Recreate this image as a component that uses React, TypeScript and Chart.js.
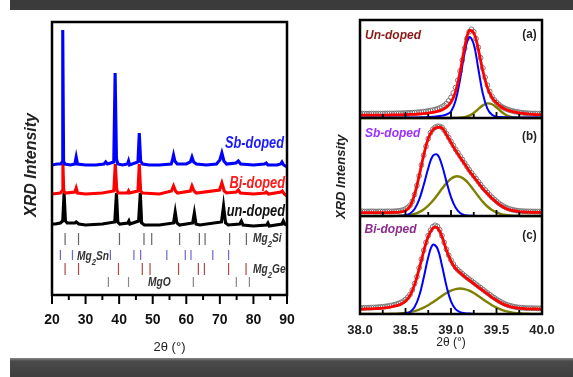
import { useEffect, useRef } from 'react';
import { Chart, registerables } from 'chart.js';

Chart.register(...registerables);

const NARROW = "'Liberation Sans Narrow', 'Arial Narrow', 'Liberation Sans', Arial, sans-serif";
const SANS = "'Liberation Sans', Arial, sans-serif";

// ---------------- Left panel: full XRD patterns ----------------
const leftTickValues = [20, 30, 40, 50, 60, 70, 80, 90];
const leftTickLabels = ['20', '30', '40', '50', '60', '70', '80', '90'];
const leftMinorTicks = [25, 35, 45, 55, 65, 75, 85];

const sbX = [20, 21.5, 22.6, 23.0, 23.2, 23.45, 23.8, 25.5, 26.8, 27.2, 27.6, 30, 33, 35.5, 36, 36.5, 38.4, 38.8, 39.2, 39.6, 41, 42.5, 42.8, 43.1, 45.6, 46.0, 46.4, 47, 49, 52, 55.5, 55.8, 56.2, 56.6, 57.3, 60, 61.2, 61.7, 62.2, 63, 66, 69, 70.0, 70.6, 71.2, 72, 74.8, 75.5, 76.2, 80, 83.3, 83.8, 84.3, 87, 88.1, 88.5, 89, 90];
const sbY = [130, 131, 131, 133, 265, 134, 131, 130, 131, 138, 131, 130, 130, 131, 133, 131, 133, 222, 136, 131, 130, 131, 134, 130, 133, 162, 134, 131, 130, 130, 131, 134, 140, 134, 131, 131, 133, 138, 133, 131, 130, 131, 135, 142, 134, 131, 132, 134, 131, 130, 131, 132, 130, 130, 131, 133, 130, 128];

const biX = [20, 22.5, 23.0, 23.25, 23.5, 24, 26.8, 27.2, 27.6, 30, 35, 38.4, 38.85, 39.3, 39.7, 42.5, 42.8, 43.1, 45.6, 46.0, 46.4, 47, 52, 55.6, 56.2, 56.8, 57.4, 61.2, 61.7, 62.3, 63, 69.9, 70.6, 71.3, 72, 74.9, 75.5, 76.1, 80, 83.4, 83.8, 84.5, 88.2, 88.6, 89.2, 90];
const biY = [101, 102, 104, 131, 104, 102, 103, 107, 102, 101, 102, 104, 131, 105, 102, 102, 104, 102, 104, 131, 104, 102, 101, 104, 109, 104, 102, 104, 109, 104, 102, 105, 112, 104, 102, 103, 105, 102, 101, 102, 103, 101, 103, 104, 101, 99];

const unX = [20, 21, 22.5, 23.2, 23.6, 24.0, 24.5, 26.8, 27.2, 28, 30, 35, 38.7, 39.2, 39.6, 40.2, 42.6, 42.9, 43.2, 45.8, 46.3, 46.7, 47.5, 52, 56.2, 56.7, 57.2, 58, 61.9, 62.4, 62.9, 64, 70.5, 71.1, 71.7, 72.5, 75.9, 76.4, 76.9, 80, 83.9, 84.3, 84.7, 88.5, 88.9, 89.3, 90];
const unY = [71, 71, 72, 74, 102, 74, 72, 72, 73, 71, 70, 71, 73, 102, 73, 71, 72, 74, 71, 74, 102, 72, 70, 70, 72, 83, 72, 70, 72, 82, 71, 70, 73, 89, 72, 70, 71, 74, 70, 69, 70, 72, 69, 71, 74, 71, 70];

// reference reflection positions (2θ)
const mg2SiPos = [23.9, 27.9, 40.1, 47.4, 49.7, 58.0, 63.9, 65.6, 72.9, 77.9];
const mg2SnPos = [22.5, 26.1, 37.4, 44.4, 46.4, 54.2, 59.7, 61.4, 67.9, 72.6];
const mg2GePos = [23.9, 27.9, 39.8, 46.9, 49.2, 57.7, 63.6, 65.4, 72.6, 77.8];
const mgOPos = [36.8, 42.8, 62.1, 74.9, 78.8];

// ---------------- Right panel: (a)(b)(c) peak fits near 39° ----------------
const rightTickValues = [38, 38.5, 39, 39.5, 40];
const rightTickLabels = ['38.0', '38.5', '39.0', '39.5', '40.0'];
const rightMajorInner = [38.5, 39, 39.5];
const rightMinorInner = [38.25, 38.75, 39.25, 39.75];

const fitX = [38, 38.05, 38.1, 38.15, 38.2, 38.25, 38.3, 38.35, 38.4, 38.45, 38.5, 38.55, 38.6, 38.65, 38.7, 38.75, 38.8, 38.85, 38.9, 38.95, 39, 39.05, 39.1, 39.15, 39.2, 39.25, 39.3, 39.35, 39.4, 39.45, 39.5, 39.55, 39.6, 39.65, 39.7, 39.75, 39.8, 39.85, 39.9, 39.95, 40];

const fitRedA = [0.03, 0.03, 0.03, 0.03, 0.03, 0.03, 0.03, 0.031, 0.031, 0.032,
  0.034, 0.036, 0.038, 0.041, 0.045, 0.05, 0.057, 0.067, 0.082, 0.11,
  0.16, 0.27, 0.47, 0.72, 0.89, 0.87, 0.7, 0.48, 0.31, 0.21,
  0.155, 0.115, 0.09, 0.072, 0.06, 0.052, 0.046, 0.042, 0.038, 0.035,
  0.033];
const fitBlueA = [0.004, 0.004, 0.004, 0.004, 0.004, 0.004, 0.004, 0.004, 0.004, 0.004,
  0.004, 0.004, 0.004, 0.006, 0.008, 0.01, 0.013, 0.017, 0.024, 0.036,
  0.065, 0.175, 0.395, 0.665, 0.825, 0.752, 0.503, 0.247, 0.095, 0.032,
  0.014, 0.009, 0.007, 0.006, 0.005, 0.005, 0.005, 0.005, 0.005, 0.005,
  0.005];
const fitOliveA = [0, 0, 0, 0, 0, 0, 0, 0, 0, 0,
  0, 0, 0, 0, 0, 0, 0, 0, 0, 0,
  0, 0.001, 0.003, 0.009, 0.024, 0.052, 0.091, 0.129, 0.149, 0.14,
  0.107, 0.067, 0.034, 0.014, 0.005, 0.002, 0, 0, 0, 0,
  0];

const fitRedB = [0.035, 0.035, 0.035, 0.035, 0.035, 0.035, 0.035, 0.036, 0.037, 0.042,
  0.055, 0.1, 0.22, 0.41, 0.62, 0.79, 0.88, 0.905, 0.9, 0.83,
  0.75, 0.67, 0.6, 0.53, 0.46, 0.4, 0.34, 0.28, 0.23, 0.18,
  0.14, 0.105, 0.08, 0.062, 0.052, 0.045, 0.041, 0.039, 0.037, 0.036,
  0.035];
const fitBlueB = [0, 0, 0, 0, 0, 0, 0, 0, 0, 0.002,
  0.007, 0.025, 0.071, 0.167, 0.316, 0.488, 0.613, 0.626, 0.52, 0.351,
  0.193, 0.086, 0.031, 0.009, 0.003, 0.001, 0, 0, 0, 0,
  0, 0, 0, 0, 0, 0, 0, 0, 0, 0,
  0];
const fitOliveB = [0, 0, 0, 0, 0, 0, 0, 0, 0.001, 0.003,
  0.006, 0.012, 0.022, 0.04, 0.067, 0.105, 0.155, 0.214, 0.277, 0.335,
  0.38, 0.403, 0.4, 0.372, 0.324, 0.264, 0.202, 0.144, 0.097, 0.061,
  0.036, 0.02, 0.01, 0.005, 0.002, 0.001, 0, 0, 0, 0,
  0];

const fitRedC = [0.05, 0.051, 0.052, 0.054, 0.056, 0.06, 0.066, 0.074, 0.085, 0.1,
  0.13, 0.19, 0.3, 0.46, 0.64, 0.79, 0.875, 0.88, 0.79, 0.65,
  0.54, 0.465, 0.42, 0.38, 0.345, 0.31, 0.275, 0.24, 0.205, 0.17,
  0.14, 0.112, 0.09, 0.076, 0.066, 0.06, 0.056, 0.053, 0.052, 0.051,
  0.05];
const fitBlueC = [0, 0, 0, 0, 0, 0, 0, 0, 0, 0.001,
  0.005, 0.021, 0.071, 0.183, 0.369, 0.578, 0.706, 0.671, 0.498, 0.287,
  0.129, 0.05, 0.02, 0.008, 0.004, 0.002, 0, 0, 0, 0,
  0, 0, 0, 0, 0, 0, 0, 0, 0, 0,
  0];
const fitOliveC = [0, 0, 0, 0, 0, 0.001, 0.001, 0.002, 0.004, 0.007,
  0.011, 0.019, 0.03, 0.045, 0.065, 0.09, 0.119, 0.151, 0.184, 0.214,
  0.238, 0.254, 0.26, 0.254, 0.238, 0.214, 0.184, 0.151, 0.119, 0.09,
  0.065, 0.045, 0.03, 0.019, 0.011, 0.007, 0.004, 0.002, 0.001, 0,
  0];

const obsX = [38, 38.025, 38.05, 38.075, 38.1, 38.125, 38.15, 38.175, 38.2, 38.225,
  38.25, 38.275, 38.3, 38.325, 38.35, 38.375, 38.4, 38.425, 38.45, 38.475,
  38.5, 38.525, 38.55, 38.575, 38.6, 38.625, 38.65, 38.675, 38.7, 38.725,
  38.75, 38.775, 38.8, 38.825, 38.85, 38.875, 38.9, 38.925, 38.95, 38.975,
  39, 39.025, 39.05, 39.075, 39.1, 39.125, 39.15, 39.175, 39.2, 39.225,
  39.25, 39.275, 39.3, 39.325, 39.35, 39.375, 39.4, 39.425, 39.45, 39.475,
  39.5, 39.525, 39.55, 39.575, 39.6, 39.625, 39.65, 39.675, 39.7, 39.725,
  39.75, 39.775, 39.8, 39.825, 39.85, 39.875, 39.9, 39.925, 39.95, 39.975,
  40];
const obsA = [0.045, 0.046, 0.045, 0.044, 0.045, 0.046, 0.045, 0.045, 0.046, 0.045,
  0.046, 0.046, 0.047, 0.046, 0.047, 0.047, 0.048, 0.048, 0.049, 0.05,
  0.051, 0.052, 0.053, 0.054, 0.056, 0.058, 0.06, 0.062, 0.065, 0.068,
  0.071, 0.075, 0.08, 0.086, 0.093, 0.102, 0.113, 0.128, 0.148, 0.175,
  0.21, 0.255, 0.31, 0.385, 0.48, 0.59, 0.71, 0.81, 0.88, 0.905,
  0.88, 0.81, 0.72, 0.615, 0.51, 0.415, 0.335, 0.27, 0.222, 0.185,
  0.16, 0.138, 0.12, 0.106, 0.095, 0.086, 0.078, 0.072, 0.066, 0.062,
  0.058, 0.055, 0.052, 0.05, 0.048, 0.047, 0.046, 0.046, 0.045, 0.045,
  0.045];
const obsB = [0.047, 0.048, 0.046, 0.047, 0.047, 0.048, 0.047, 0.046, 0.047, 0.047,
  0.047, 0.047, 0.048, 0.047, 0.047, 0.048, 0.05, 0.052, 0.056, 0.062,
  0.072, 0.088, 0.11, 0.15, 0.22, 0.31, 0.41, 0.52, 0.62, 0.71,
  0.79, 0.85, 0.885, 0.905, 0.915, 0.915, 0.905, 0.875, 0.84, 0.8,
  0.76, 0.72, 0.68, 0.645, 0.61, 0.575, 0.54, 0.505, 0.47, 0.44,
  0.41, 0.38, 0.35, 0.32, 0.29, 0.265, 0.24, 0.215, 0.19, 0.17,
  0.15, 0.13, 0.115, 0.1, 0.088, 0.078, 0.07, 0.064, 0.059, 0.055,
  0.052, 0.05, 0.049, 0.048, 0.047, 0.047, 0.046, 0.046, 0.046, 0.046,
  0.046];
const obsC = [0.062, 0.063, 0.063, 0.064, 0.065, 0.066, 0.067, 0.068, 0.07, 0.072,
  0.074, 0.077, 0.08, 0.084, 0.088, 0.094, 0.1, 0.108, 0.118, 0.13,
  0.148, 0.17, 0.2, 0.245, 0.31, 0.38, 0.47, 0.56, 0.65, 0.73,
  0.8, 0.855, 0.89, 0.905, 0.895, 0.86, 0.8, 0.73, 0.66, 0.6,
  0.55, 0.51, 0.475, 0.45, 0.43, 0.41, 0.39, 0.372, 0.355, 0.338,
  0.32, 0.303, 0.285, 0.268, 0.25, 0.232, 0.215, 0.198, 0.18, 0.165,
  0.15, 0.135, 0.122, 0.11, 0.1, 0.091, 0.084, 0.078, 0.073, 0.069,
  0.066, 0.064, 0.062, 0.061, 0.06, 0.06, 0.059, 0.059, 0.058, 0.058,
  0.058];

// ---------------- helpers ----------------
const pts = (xs: number[], ys: number[], off = 0) => xs.map((x, i) => ({ x, y: ys[i] + off }));
const markers = (pos: number[], lo: number, hi: number) =>
  pos.flatMap((p) => [{ x: p, y: lo }, { x: p, y: hi }, { x: p, y: null as any }]);

function drawText(ctx: any, s: string, x: number, y: number, font: string, color: string, align = 'left', sx = 1) {
  ctx.save();
  ctx.translate(x, y);
  ctx.scale(sx, 1);
  ctx.font = font;
  ctx.fillStyle = color;
  ctx.textAlign = align;
  ctx.textBaseline = 'alphabetic';
  ctx.fillText(s, 0, 0);
  ctx.restore();
}

function drawFormula(ctx: any, parts: [string, boolean][], x: number, y: number, size: number, color: string, sx: number) {
  ctx.save();
  ctx.translate(x, y);
  ctx.scale(sx, 1);
  ctx.fillStyle = color;
  ctx.textAlign = 'left';
  ctx.textBaseline = 'alphabetic';
  let cx = 0;
  for (const [t, sub] of parts) {
    ctx.font = `italic bold ${sub ? Math.round(size * 0.72) : size}px ${SANS}`;
    ctx.fillText(t, cx, sub ? size * 0.45 : 0);
    cx += ctx.measureText(t).width;
  }
  ctx.restore();
}

function vTitle(ctx: any, s: string, cx: number, cy: number, font: string) {
  ctx.save();
  ctx.translate(cx, cy);
  ctx.rotate(-Math.PI / 2);
  ctx.font = font;
  ctx.fillStyle = '#222';
  ctx.textAlign = 'center';
  ctx.textBaseline = 'middle';
  ctx.fillText(s, 0, 0);
  ctx.restore();
}

function seg(ctx: any, x1: number, y1: number, x2: number, y2: number) {
  ctx.beginPath();
  ctx.moveTo(x1, y1);
  ctx.lineTo(x2, y2);
  ctx.stroke();
}

const leftDecor = {
  id: 'leftDecor',
  afterDraw(chart: any) {
    const { ctx, chartArea: a } = chart;
    const x = chart.scales.x;
    ctx.save();
    ctx.strokeStyle = '#000';
    ctx.lineWidth = 2.5;
    ctx.strokeRect(a.left, a.top, a.right - a.left, a.bottom - a.top);
    ctx.lineWidth = 2;
    leftTickValues.forEach((v) => { const px = x.getPixelForValue(v); seg(ctx, px, a.bottom, px, a.bottom + 9); });
    leftMinorTicks.forEach((v) => { const px = x.getPixelForValue(v); seg(ctx, px, a.bottom, px, a.bottom + 5); });
    ctx.restore();

    const lf = `italic bold 16px ${SANS}`;
    drawText(ctx, 'Sb-doped', 284, 148, lf, '#1a1aff', 'right', 0.8);
    drawText(ctx, 'Bi-doped', 285, 188, lf, '#ff1a1a', 'right', 0.8);
    drawText(ctx, 'un-doped', 285, 216, lf, '#111', 'right', 0.8);

    drawFormula(ctx, [['Mg', false], ['2', true], ['Si', false]], 253, 241.5, 12, '#333', 0.85);
    drawFormula(ctx, [['Mg', false], ['2', true], ['Sn', false]], 77, 259.5, 12, '#333', 0.85);
    drawFormula(ctx, [['Mg', false], ['2', true], ['Ge', false]], 253, 273, 12, '#333', 0.85);
    drawFormula(ctx, [['MgO', false]], 148, 286, 12, '#333', 0.85);

    vTitle(ctx, 'XRD Intensity', 32, 165, `italic bold 16px ${SANS}`);
  },
};

const rightDecor = {
  id: 'rightDecor',
  afterDraw(chart: any) {
    const { ctx, chartArea: a } = chart;
    const x = chart.scales.x;
    const y = chart.scales.y;
    ctx.save();
    ctx.strokeStyle = '#000';
    ctx.lineWidth = 2.5;
    ctx.strokeRect(a.left, a.top, a.right - a.left, a.bottom - a.top);
    [1, 2].forEach((v) => { const py = y.getPixelForValue(v); seg(ctx, a.left, py, a.right, py); });
    ctx.lineWidth = 1.8;
    [0, 1, 2].forEach((b) => {
      const py = y.getPixelForValue(b);
      rightMajorInner.forEach((t) => { const px = x.getPixelForValue(t); seg(ctx, px, py, px, py - 6); });
      rightMinorInner.forEach((t) => { const px = x.getPixelForValue(t); seg(ctx, px, py, px, py - 4); });
    });
    ctx.restore();

    const pf = `italic bold 12px ${SANS}`;
    drawText(ctx, 'Un-doped', 365, 38.5, pf, '#8b1a1a');
    drawText(ctx, 'Sb-doped', 365, 137, pf, '#9b30ff');
    drawText(ctx, 'Bi-doped', 364.5, 232.5, pf, '#8e2c8e');
    const lf = `bold 13px ${SANS}`;
    drawText(ctx, '(a)', 529.5, 37.5, lf, '#222', 'center', 0.9);
    drawText(ctx, '(b)', 529.5, 139.5, lf, '#222', 'center', 0.9);
    drawText(ctx, '(c)', 529.5, 238.5, lf, '#222', 'center', 0.9);

    vTitle(ctx, 'XRD Intensity', 341.7, 176.7, `italic bold 13px ${SANS}`);
  },
};

export default function App() {
  const leftRef = useRef<HTMLCanvasElement>(null);
  const rightRef = useRef<HTMLCanvasElement>(null);

  useEffect(() => {
    const lineDs = (label: string, data: any, color: string, width: number, order: number) => ({
      label, data, borderColor: color, backgroundColor: color, borderWidth: width,
      showLine: true, pointRadius: 0, tension: 0, order, spanGaps: false,
    });

    const left = new Chart(leftRef.current as HTMLCanvasElement, {
      type: 'scatter',
      data: {
        datasets: [
          lineDs('Sb-doped', pts(sbX, sbY), '#0000ff', 3.1, 0),
          lineDs('Bi-doped', pts(biX, biY), '#ff0000', 3.1, 1),
          lineDs('un-doped', pts(unX, unY), '#000000', 3.1, 2),
          lineDs('Mg2Si', markers(mg2SiPos, 50, 62), '#666666', 1.2, 3),
          lineDs('Mg2Sn', markers(mg2SnPos, 35, 45), '#6a6ad0', 1.2, 3),
          lineDs('Mg2Ge', markers(mg2GePos, 20, 32), '#b04848', 1.2, 3),
          lineDs('MgO', markers(mgOPos, 8, 18), '#888888', 1.2, 3),
        ] as any,
      },
      options: {
        responsive: false,
        animation: false,
        events: [],
        layout: { padding: { left: 52, right: 286, top: 22, bottom: 21.5 } },
        plugins: { legend: { display: false }, tooltip: { enabled: false } },
        scales: {
          x: {
            type: 'linear', min: 20, max: 90,
            afterBuildTicks: (s: any) => { s.ticks = leftTickValues.map((v) => ({ value: v })); },
            afterFit: (s: any) => { s.height = 60.5; },
            ticks: {
              callback: (_v: any, i: number) => leftTickLabels[i],
              font: { family: NARROW, size: 14, weight: 'bold', lineHeight: 1 },
              color: '#111', padding: 18, maxRotation: 0, autoSkip: false,
            },
            grid: { display: false, drawTicks: false },
            border: { display: false },
            title: {
              display: true, text: '2θ (°)', color: '#222',
              font: { family: NARROW, size: 13, lineHeight: 1 },
              padding: { top: 13.5, bottom: 2 },
            },
          },
          y: { type: 'linear', min: 0, max: 273, display: false },
        },
      } as any,
      plugins: [leftDecor],
    });

    const panels = [
      { off: 2, red: fitRedA, blue: fitBlueA, olive: fitOliveA, obs: obsA },
      { off: 1, red: fitRedB, blue: fitBlueB, olive: fitOliveB, obs: obsB },
      { off: 0, red: fitRedC, blue: fitBlueC, olive: fitOliveC, obs: obsC },
    ];
    const rightSets: any[] = [];
    panels.forEach((p) => {
      rightSets.push({ ...lineDs('fit', pts(fitX, p.red, p.off), '#ff0000', 2.8, 0), tension: 0.4 });
      rightSets.push({ ...lineDs('peak 1', pts(fitX, p.blue, p.off), '#0000ff', 2, 1), tension: 0.4 });
      rightSets.push({ ...lineDs('peak 2', pts(fitX, p.olive, p.off), '#808000', 2.4, 2), tension: 0.4 });
      rightSets.push({
        label: 'observed', data: pts(obsX, p.obs, p.off), showLine: false, order: 3,
        pointRadius: 2.4, pointBorderWidth: 0.9, pointBorderColor: '#6e6e6e',
        pointBackgroundColor: 'rgba(255,255,255,0)',
      });
    });

    const right = new Chart(rightRef.current as HTMLCanvasElement, {
      type: 'scatter',
      data: { datasets: rightSets },
      options: {
        responsive: false,
        animation: false,
        events: [],
        layout: { padding: { left: 360, right: 31, top: 20, bottom: 26.5 } },
        plugins: { legend: { display: false }, tooltip: { enabled: false } },
        scales: {
          x: {
            type: 'linear', min: 38, max: 40,
            afterBuildTicks: (s: any) => { s.ticks = rightTickValues.map((v) => ({ value: v })); },
            afterFit: (s: any) => { s.height = 36.5; },
            ticks: {
              callback: (_v: any, i: number) => rightTickLabels[i],
              font: { family: NARROW, size: 13, weight: 'bold', lineHeight: 1 },
              color: '#222', padding: 9.5, maxRotation: 0, autoSkip: false,
            },
            grid: { display: false, drawTicks: false },
            border: { display: false },
            title: {
              display: true, text: '2θ (°)', color: '#222',
              font: { family: NARROW, size: 12, lineHeight: 1 },
              padding: { top: 0, bottom: 2 },
            },
          },
          y: { type: 'linear', min: 0, max: 3, display: false },
        },
      } as any,
      plugins: [rightDecor],
    });

    return () => { left.destroy(); right.destroy(); };
  }, []);

  const abs = { position: 'absolute' as const, left: 0, top: 0 };
  return (
    <div style={{ ...abs, width: 573, height: 377, background: '#fff', overflow: 'hidden' }}>
      <div style={{ position: 'absolute', left: 10, top: 0, width: 563, height: 10, background: '#3b3b3b' }} />
      <div style={{ position: 'absolute', left: 10, top: 358, width: 563, height: 19, background: 'linear-gradient(to bottom, #8a8a8a 0px, #4a4a4a 3px, #3e3e3e 100%)' }} />
      <canvas ref={leftRef} width={573} height={377} style={{ ...abs }} />
      <canvas ref={rightRef} width={573} height={377} style={{ ...abs }} />
    </div>
  );
}
